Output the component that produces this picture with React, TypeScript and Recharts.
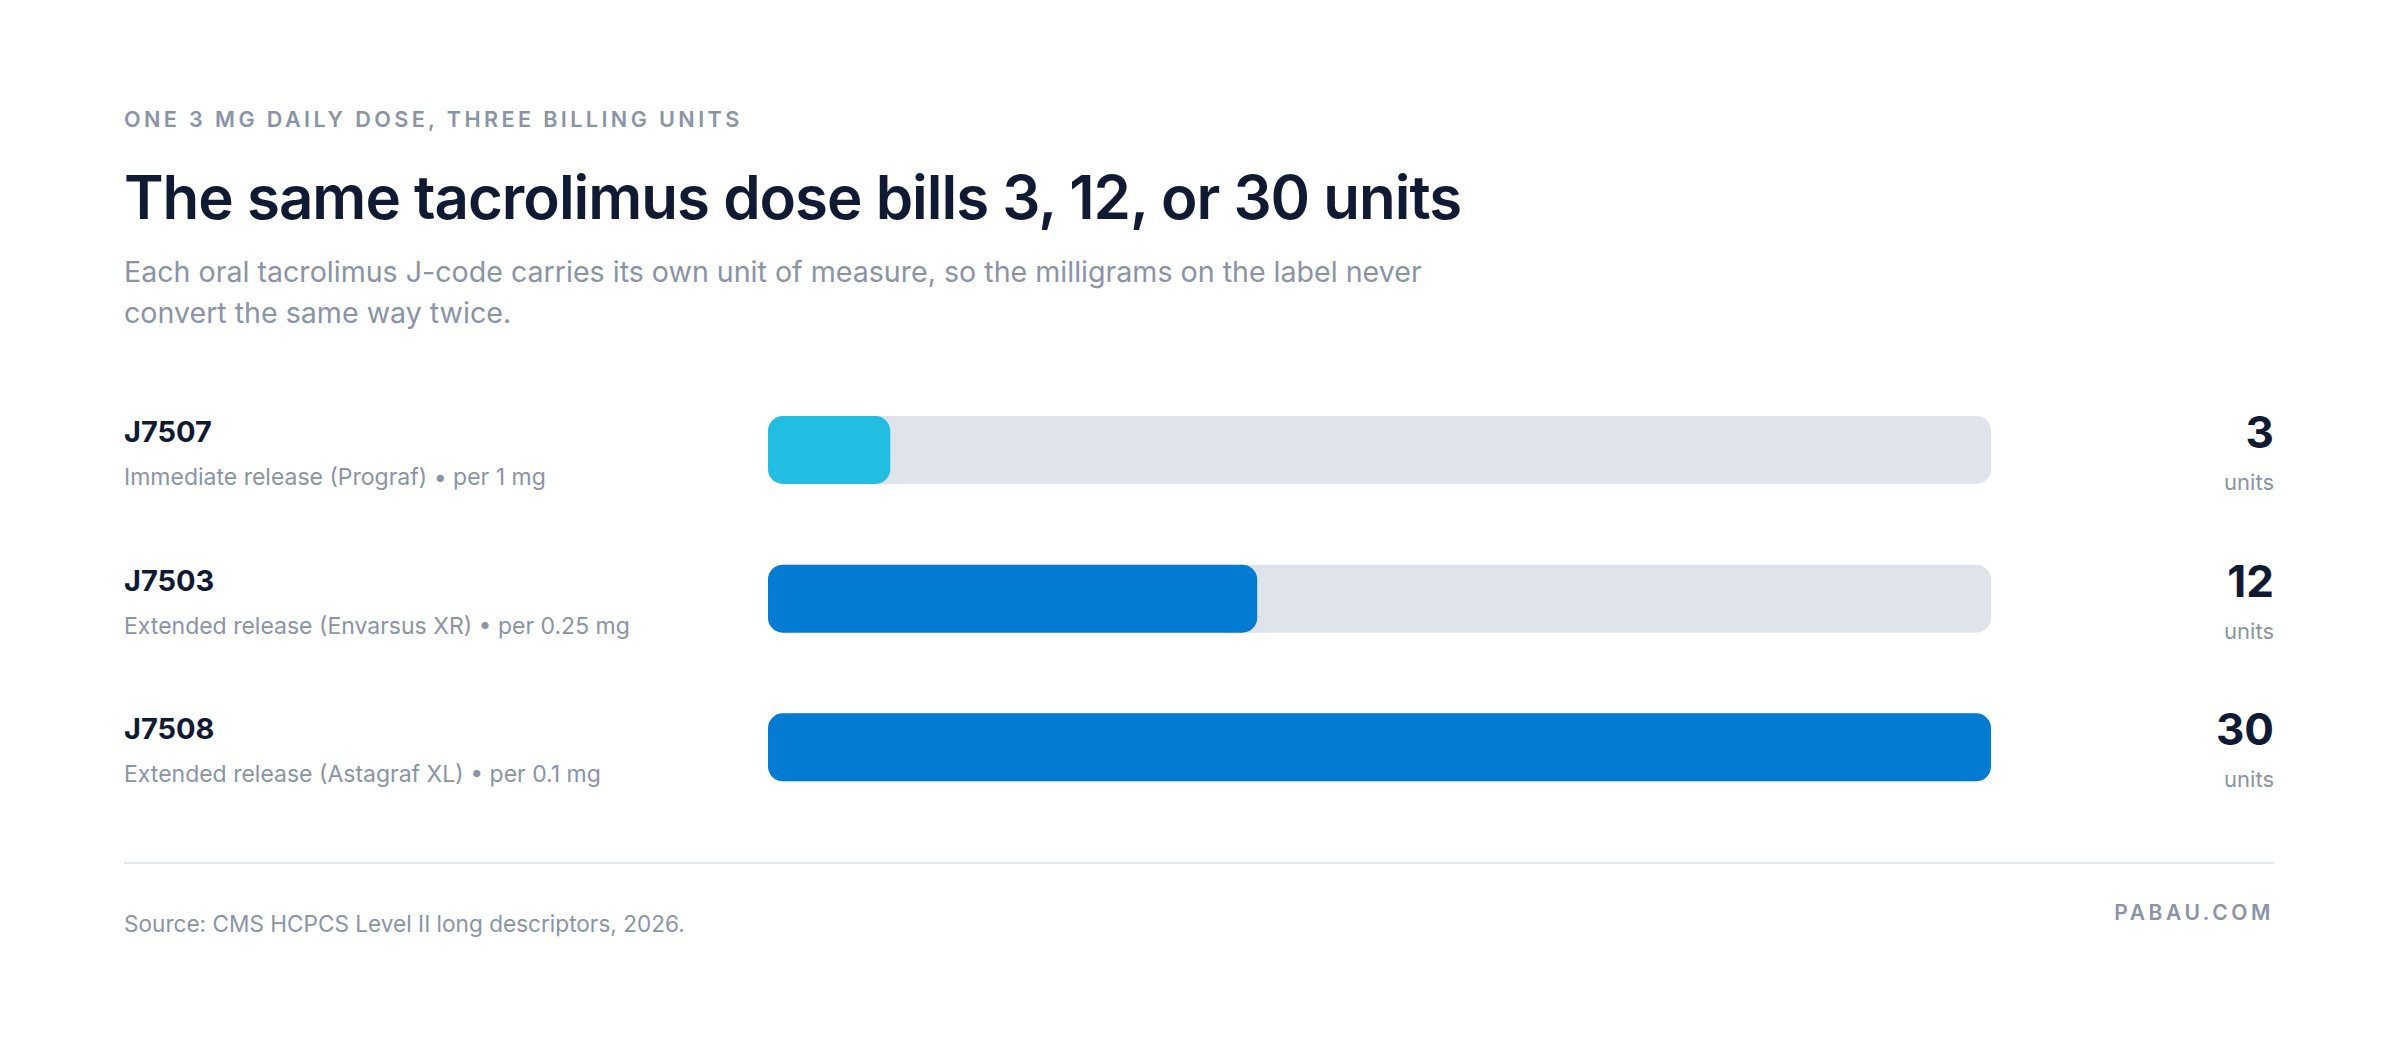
import { BarChart, Bar, XAxis, YAxis, Cell, LabelList } from 'recharts';

const codes = ['J7507', 'J7503', 'J7508'];
const descriptions = [
  'Immediate release (Prograf) \u2022 per 1 mg',
  'Extended release (Envarsus XR) \u2022 per 0.25 mg',
  'Extended release (Astagraf XL) \u2022 per 0.1 mg',
];
const billingUnits = [3, 12, 30];
const barColors = ['#22BDE0', '#047BD3', '#047BD3'];
const unitDomain = [0, 30];

const FONT = 'Inter, "Noto Sans", sans-serif';
const DARK = '#111A33';
const GRAY = '#8A94A6';

const data = codes.map((code, i) => ({
  code,
  description: descriptions[i],
  units: billingUnits[i],
}));

const LEFT_X = 124;
const RIGHT_X = 2274;

function LeftLabel(props: any) {
  const { y, height, index } = props;
  const cy = y + height / 2;
  return (
    <g>
      <text x={LEFT_X} y={cy - 8} fill={DARK} fontFamily={FONT} fontSize={29} fontWeight={700}>
        {codes[index]}
      </text>
      <text x={LEFT_X} y={cy + 35} fill={GRAY} fontFamily={FONT} fontSize={23}>
        {descriptions[index]}
      </text>
    </g>
  );
}

function RightLabel(props: any) {
  const { y, height, value } = props;
  const cy = y + height / 2;
  return (
    <g>
      <text x={RIGHT_X} y={cy - 2} textAnchor="end" fill={DARK} fontFamily={FONT} fontSize={44} fontWeight={700}>
        {value}
      </text>
      <text x={RIGHT_X} y={cy + 40} textAnchor="end" fill={GRAY} fontFamily={FONT} fontSize={22}>
        units
      </text>
    </g>
  );
}

export default function App() {
  return (
    <div style={{ position: 'fixed', left: 0, top: 0, width: 2400, height: 1060, background: '#fff' }}>
      <BarChart
        width={2400}
        height={1060}
        data={data}
        layout="vertical"
        margin={{ top: 376, right: 409, bottom: 238, left: 768 }}
      >
        <XAxis type="number" domain={unitDomain} hide />
        <YAxis type="category" dataKey="code" hide />
        <Bar
          dataKey="units"
          barSize={68}
          radius={15}
          background={{ fill: '#DFE3EC', radius: 15 }}
          isAnimationActive={false}
        >
          {data.map((d, i) => (
            <Cell key={d.code} fill={barColors[i]} />
          ))}
          <LabelList dataKey="code" content={<LeftLabel />} />
          <LabelList dataKey="units" content={<RightLabel />} />
        </Bar>
      </BarChart>
      <svg
        width={2400}
        height={1060}
        style={{ position: 'absolute', left: 0, top: 0, pointerEvents: 'none' }}
      >
        <text x={LEFT_X} y={127} fill={GRAY} fontFamily={FONT} fontSize={21.6} fontWeight={600} style={{ letterSpacing: 3.4 }}>
          ONE 3 MG DAILY DOSE, THREE BILLING UNITS
        </text>
        <text x={LEFT_X} y={219} fill={DARK} fontFamily={FONT} fontSize={60} fontWeight={600} style={{ letterSpacing: -1 }}>
          The same tacrolimus dose bills 3, 12, or 30 units
        </text>
        <text x={LEFT_X} y={282} fill={GRAY} fontFamily={FONT} fontSize={28.6}>
          Each oral tacrolimus J-code carries its own unit of measure, so the milligrams on the label never
        </text>
        <text x={LEFT_X} y={323} fill={GRAY} fontFamily={FONT} fontSize={28.6}>
          convert the same way twice.
        </text>
        <line x1={LEFT_X} x2={RIGHT_X} y1={863} y2={863} stroke="#E2E8F0" strokeWidth={2} />
        <text x={LEFT_X} y={932} fill={GRAY} fontFamily={FONT} fontSize={22.6}>
          Source: CMS HCPCS Level II long descriptors, 2026.
        </text>
        <text x={RIGHT_X} y={920} textAnchor="end" fill={GRAY} fontFamily={FONT} fontSize={21} fontWeight={600} style={{ letterSpacing: 3.6 }}>
          PABAU.COM
        </text>
      </svg>
    </div>
  );
}
